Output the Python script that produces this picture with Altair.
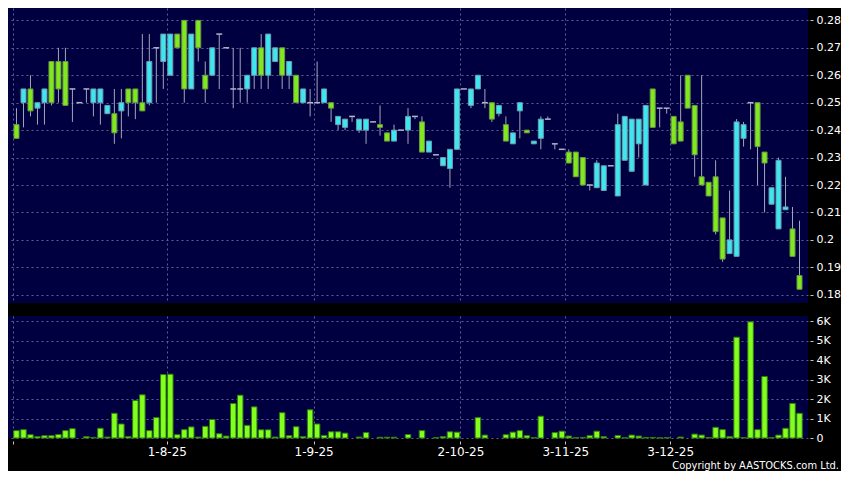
import altair as alt
import pandas as pd

# ---- data (daily candles, index 0..112) ----
opens = [0.242, 0.250, 0.255, 0.248, 0.250, 0.265, 0.265, 0.265, 0.255, 0.250,
         0.255, 0.250, 0.250, 0.246, 0.246, 0.247, 0.255, 0.255, 0.250, 0.250,
         0.270, 0.265, 0.260, 0.275, 0.280, 0.255, 0.280, 0.260, 0.260, 0.275,
         0.270, 0.255, 0.255, 0.255, 0.260, 0.270, 0.260, 0.265, 0.270, 0.260,
         0.260, 0.250, 0.250, 0.250, 0.250, 0.250, 0.242, 0.241, 0.245, 0.240,
         0.240, 0.243, 0.242, 0.239, 0.236, 0.240, 0.240, 0.245, 0.243, 0.232,
         0.231, 0.227, 0.226, 0.233, 0.255, 0.249, 0.255, 0.250, 0.250, 0.246,
         0.242, 0.235, 0.247, 0.240, 0.235, 0.237, 0.244, 0.235, 0.233, 0.232,
         0.232, 0.230, 0.220, 0.219, 0.218, 0.227, 0.216, 0.229, 0.225, 0.235,
         0.220, 0.255, 0.248, 0.248, 0.245, 0.243, 0.260, 0.249, 0.223, 0.221,
         0.223, 0.208, 0.195, 0.194, 0.237, 0.250, 0.250, 0.232, 0.213, 0.204,
         0.211, 0.204, 0.187]
highs = [0.248, 0.255, 0.260, 0.250, 0.255, 0.265, 0.270, 0.270, 0.255, 0.250,
         0.255, 0.255, 0.255, 0.249, 0.255, 0.255, 0.255, 0.255, 0.275, 0.275,
         0.270, 0.275, 0.275, 0.275, 0.280, 0.275, 0.280, 0.265, 0.270, 0.275,
         0.270, 0.270, 0.270, 0.260, 0.270, 0.275, 0.275, 0.270, 0.270, 0.265,
         0.260, 0.255, 0.255, 0.265, 0.255, 0.250, 0.245, 0.244, 0.245, 0.244,
         0.244, 0.243, 0.249, 0.239, 0.242, 0.240, 0.248, 0.245, 0.245, 0.236,
         0.231, 0.230, 0.233, 0.255, 0.255, 0.255, 0.260, 0.255, 0.250, 0.249,
         0.245, 0.239, 0.250, 0.240, 0.236, 0.245, 0.245, 0.235, 0.233, 0.233,
         0.232, 0.230, 0.220, 0.229, 0.227, 0.227, 0.246, 0.245, 0.244, 0.244,
         0.249, 0.255, 0.248, 0.248, 0.245, 0.260, 0.260, 0.249, 0.260, 0.221,
         0.229, 0.208, 0.218, 0.244, 0.243, 0.250, 0.250, 0.232, 0.219, 0.230,
         0.223, 0.212, 0.207]
lows = [0.237, 0.241, 0.245, 0.242, 0.242, 0.249, 0.250, 0.249, 0.243, 0.250,
        0.250, 0.245, 0.242, 0.246, 0.235, 0.237, 0.245, 0.244, 0.247, 0.249,
        0.250, 0.255, 0.260, 0.270, 0.250, 0.255, 0.265, 0.250, 0.260, 0.255,
        0.270, 0.248, 0.250, 0.250, 0.255, 0.255, 0.255, 0.265, 0.255, 0.255,
        0.250, 0.250, 0.245, 0.250, 0.250, 0.243, 0.240, 0.240, 0.243, 0.239,
        0.235, 0.243, 0.238, 0.236, 0.236, 0.240, 0.235, 0.244, 0.232, 0.232,
        0.231, 0.227, 0.219, 0.233, 0.255, 0.248, 0.255, 0.248, 0.243, 0.245,
        0.236, 0.235, 0.237, 0.239, 0.235, 0.233, 0.244, 0.233, 0.233, 0.228,
        0.223, 0.220, 0.218, 0.219, 0.218, 0.227, 0.216, 0.229, 0.225, 0.230,
        0.220, 0.241, 0.241, 0.246, 0.235, 0.236, 0.248, 0.223, 0.220, 0.216,
        0.202, 0.192, 0.195, 0.194, 0.234, 0.233, 0.220, 0.210, 0.213, 0.204,
        0.211, 0.194, 0.182]
closes = [0.237, 0.255, 0.247, 0.250, 0.255, 0.250, 0.255, 0.249, 0.255, 0.250,
          0.255, 0.255, 0.255, 0.249, 0.239, 0.250, 0.250, 0.250, 0.247, 0.265,
          0.270, 0.275, 0.275, 0.270, 0.255, 0.275, 0.270, 0.255, 0.270, 0.275,
          0.270, 0.255, 0.255, 0.260, 0.270, 0.260, 0.275, 0.270, 0.260, 0.265,
          0.250, 0.255, 0.250, 0.250, 0.255, 0.248, 0.245, 0.244, 0.245, 0.244,
          0.244, 0.243, 0.241, 0.236, 0.240, 0.240, 0.245, 0.245, 0.232, 0.236,
          0.231, 0.230, 0.233, 0.255, 0.255, 0.255, 0.260, 0.250, 0.244, 0.249,
          0.236, 0.239, 0.250, 0.239, 0.236, 0.244, 0.244, 0.235, 0.233, 0.228,
          0.223, 0.220, 0.220, 0.228, 0.227, 0.227, 0.242, 0.245, 0.244, 0.244,
          0.249, 0.241, 0.248, 0.248, 0.235, 0.236, 0.248, 0.231, 0.220, 0.216,
          0.203, 0.193, 0.200, 0.243, 0.242, 0.250, 0.234, 0.228, 0.219, 0.229,
          0.212, 0.194, 0.182]
volumes_k = [0.38, 0.43, 0.17, 0.07, 0.12, 0.12, 0.18, 0.38, 0.48, 0.0,
             0.07, 0.03, 0.50, 0.05, 1.27, 0.72, 0.08, 1.93, 2.22, 0.38,
             1.05, 3.26, 3.28, 0.17, 0.43, 0.57, 0.05, 0.60, 0.95, 0.22,
             0.10, 1.77, 2.20, 0.65, 1.60, 0.42, 0.42, 0.05, 1.30, 0.12,
             0.58, 0.07, 1.45, 0.72, 0.13, 0.32, 0.32, 0.25, 0.0, 0.05,
             0.28, 0.0, 0.04, 0.04, 0.04, 0.0, 0.18, 0.0, 0.38, 0.0,
             0.02, 0.07, 0.32, 0.30, 0.0, 0.0, 1.05, 0.15, 0.0, 0.0,
             0.17, 0.30, 0.38, 0.12, 0.02, 1.12, 0.0, 0.28, 0.35, 0.10,
             0.02, 0.03, 0.12, 0.35, 0.07, 0.0, 0.13, 0.01, 0.15, 0.10,
             0.03, 0.03, 0.01, 0.02, 0.0, 0.05, 0.0, 0.20, 0.15, 0.03,
             0.55, 0.43, 0.08, 5.18, 0.02, 5.97, 0.43, 3.16, 0.02, 0.15,
             0.50, 1.78, 1.27]

date_tick_pos = [-0.5, 21.5, 42.5, 63.5, 78.5, 93.5]
date_tick_labels = ["", "1-8-25", "1-9-25", "2-10-25", "3-11-25", "3-12-25"]
price_ticks = [0.18, 0.19, 0.20, 0.21, 0.22, 0.23, 0.24, 0.25, 0.26, 0.27, 0.28]
volume_ticks = [0, 1000, 2000, 3000, 4000, 5000, 6000]
copyright_text = "Copyright by AASTOCKS.com Ltd."

# ---- table ----
n = len(opens)
df = pd.DataFrame({
    "i": list(range(n)),
    "open": opens, "high": highs, "low": lows, "close": closes,
    "volume": [v * 1000 for v in volumes_k],
})
df["dir"] = ["up" if c > o else ("down" if c < o else "flat") for o, c in zip(opens, closes)]

CYAN = "#3ee6ef"
GREEN = "#80e81e"
WICK = "#a4a4b8"
GRID = "#5e5e98"

W = 800
H_PRICE = 295
H_VOL = 122

xscale = alt.Scale(domain=[-0.5, n - 0.5], nice=False, zero=False)
x_axis_top = alt.Axis(values=date_tick_pos, labels=False, ticks=False, domain=False,
                      grid=True, title=None)
label_expr = " : ".join(f"datum.value == {p} ? '{l}'" for p, l in zip(date_tick_pos, date_tick_labels)) + " : ''"
x_axis_bottom = alt.Axis(values=date_tick_pos, labelExpr=label_expr, grid=True, ticks=True,
                         tickSize=3, offset=3, domain=False, labelPadding=2, title=None,
                         labelFontSize=12, labelColor="white")

pscale = alt.Scale(domain=[0.177, 0.2845], nice=False, zero=False)
p_axis = alt.Axis(orient="right", values=price_ticks, format="~g", title=None, domain=False,
                  tickSize=3, offset=2, labelPadding=3, grid=True)

base = alt.Chart(df)

wicks = base.mark_rule(color=WICK, strokeWidth=1).encode(
    x=alt.X("i:Q", scale=xscale, axis=x_axis_top),
    y=alt.Y("low:Q", scale=pscale, axis=p_axis),
    y2="high:Q",
)

bodies = base.transform_filter("datum.open != datum.close").mark_bar(size=5, strokeWidth=1).encode(
    x=alt.X("i:Q", scale=xscale, axis=x_axis_top),
    y=alt.Y("open:Q", scale=pscale, axis=p_axis),
    y2="close:Q",
    fill=alt.Fill("dir:N", scale=alt.Scale(domain=["up", "down"], range=[CYAN, GREEN]), legend=None),
    stroke=alt.Stroke("dir:N", scale=alt.Scale(domain=["up", "down"], range=["#6c9cae", "#6a9446"]), legend=None),
)

dojis = base.transform_filter("datum.open == datum.close").transform_calculate(
    xl="datum.i - 0.42", xr="datum.i + 0.42"
).mark_rule(color="#b4b4c8", strokeWidth=1.5).encode(
    x=alt.X("xl:Q", scale=xscale, axis=x_axis_top),
    x2="xr:Q",
    y=alt.Y("open:Q", scale=pscale, axis=p_axis),
)

price = alt.layer(wicks, bodies, dojis).properties(width=W, height=H_PRICE)

vscale = alt.Scale(domain=[0, 6270], nice=False)
v_axis = alt.Axis(orient="right", values=volume_ticks,
                  labelExpr="datum.value == 0 ? '0' : format(datum.value / 1000, 'd') + 'K'",
                  title=None, domain=False, tickSize=3, offset=2, labelPadding=3, grid=True)

vbars = base.transform_filter("datum.volume > 0").mark_bar(
    size=5.5, fill="#82ff1c", stroke="#2f7a12", strokeWidth=1
).encode(
    x=alt.X("i:Q", scale=xscale, axis=x_axis_bottom),
    y=alt.Y("volume:Q", scale=vscale, axis=v_axis),
)

copyright = alt.Chart(pd.DataFrame({"t": [copyright_text]})).mark_text(
    align="right", baseline="bottom", fontSize=11, font="DejaVu Sans Condensed, DejaVu Sans",
    color="white"
).encode(x=alt.value(831), y=alt.value(155), text="t:N")

volume = alt.layer(vbars, copyright).properties(width=W, height=H_VOL)

chart = alt.vconcat(price, volume, spacing=12).properties(
    background="#000000",
    padding={"left": 0, "top": 0, "right": 0, "bottom": 0},
).configure_view(
    fill="#000040", stroke=None
).configure_axis(
    labelColor="white", labelFont="DejaVu Sans", labelFontSize=11,
    tickColor="#c8c8c8", gridColor=GRID, gridDash=[2, 3], gridWidth=1, gridOpacity=1,
)

chart.save("out.html", embed_options={"renderer": "svg", "actions": False})
